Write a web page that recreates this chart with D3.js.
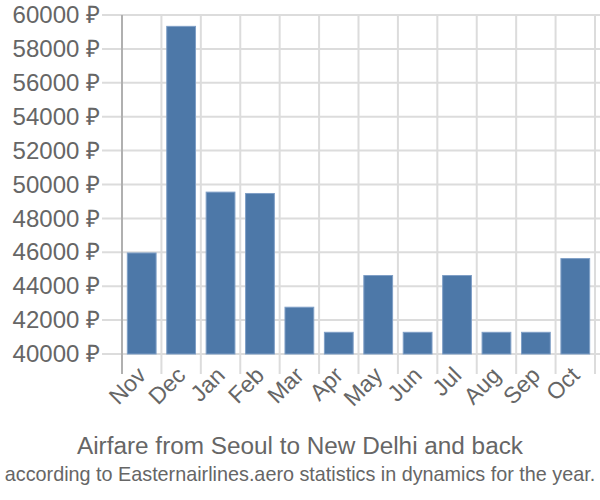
<!DOCTYPE html>
<html><head><meta charset="utf-8">
<script src="https://cdn.jsdelivr.net/npm/d3@7"></script>
<style>body{margin:0;background:#fff}svg{display:block}text{font-family:"Liberation Sans",Arial,sans-serif;fill:#666}</style>
</head><body><svg id="c" width="600" height="500"></svg>
<script>
const months = ["Nov","Dec","Jan","Feb","Mar","Apr","May","Jun","Jul","Aug","Sep","Oct"];
const prices = [45960,59330,49550,49470,42760,41280,44630,41280,44630,41280,41280,45630];
const yTicks = [40000,42000,44000,46000,48000,50000,52000,54000,56000,58000,60000];
const title = "Airfare from Seoul to New Delhi and back";
const subtitle = "according to Easternairlines.aero statistics in dynamics for the year.";

const svg = d3.select("#c");
const m = {l:122, r:595, t:15, b:354};
const x = d3.scaleBand().domain(months).range([m.l, m.r]).paddingInner(0.27).paddingOuter(0.135);
const y = d3.scaleLinear().domain([40000,60000]).range([m.b, m.t]);
const xb = d3.scaleBand().domain(months).range([m.l, m.r]);

// grid
svg.append("g").selectAll("line").data(yTicks).join("line")
  .attr("x1", m.l-20).attr("x2", m.r+5).attr("y1", d=>y(d)).attr("y2", d=>y(d))
  .attr("stroke","#dcdcdc").attr("stroke-width",2);
const vx = months.map(d=>xb(d)).concat([m.r]);
svg.append("g").selectAll("line").data(vx).join("line")
  .attr("x1", d=>d).attr("x2", d=>d).attr("y1", m.t).attr("y2", m.b+20)
  .attr("stroke", (d,i)=> i===0 ? "#b0b0b0" : "#dcdcdc").attr("stroke-width",2);

// bars
svg.append("g").selectAll("rect").data(prices).join("rect")
  .attr("x",(d,i)=>x(months[i])).attr("width",x.bandwidth())
  .attr("y",d=>y(d)).attr("height",d=>y(40000)-y(d))
  .attr("fill","#4d78a8").attr("stroke","#7f9fc6").attr("stroke-width",1);

// y axis labels
const ya = d3.axisLeft(y).tickValues(yTicks).tickSize(0).tickPadding(0).tickFormat(d=>d+" ₽");
const gy = svg.append("g").attr("transform",`translate(${m.l-22},0)`).call(ya);
gy.select(".domain").remove();
gy.selectAll("text").attr("font-size",24).attr("fill","#666").attr("font-family","Liberation Sans, Arial, sans-serif");

// x axis labels
const xa = d3.axisBottom(xb).tickSize(0).tickPadding(0);
const gx = svg.append("g").attr("transform",`translate(0,${m.b})`).call(xa);
gx.select(".domain").remove();
gx.selectAll("text").attr("font-size",23).attr("fill","#666").attr("font-family","Liberation Sans, Arial, sans-serif")
  .attr("text-anchor","end").attr("dy","0.35em")
  .attr("transform","translate(0,17) rotate(-45)");

svg.append("text").attr("x",300).attr("y",454).attr("text-anchor","middle").attr("font-size",23)
  .attr("textLength",446).attr("lengthAdjust","spacingAndGlyphs").text(title);
svg.append("text").attr("x",300).attr("y",481).attr("text-anchor","middle").attr("font-size",19.8)
  .text(subtitle);
</script></body></html>
